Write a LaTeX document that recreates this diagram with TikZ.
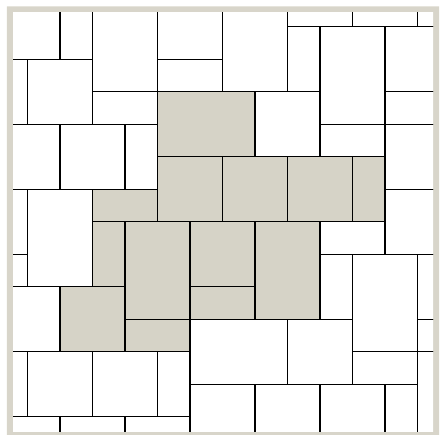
\documentclass[tikz,border=0pt]{standalone}
\usepackage{xcolor}
\usepackage{tikz}
\definecolor{paving}{RGB}{214,211,199}
\definecolor{rim}{RGB}{216,213,202}

\begin{document}
\begin{tikzpicture}[x=0.8125cm, y=-0.8125cm,
    tile/.style={draw=black, line width=0.9pt, fill=white},
    stone/.style={tile, fill=paving}]
    \useasboundingbox (-0.849,-0.822) rectangle (12.72,12.532);
    % frame round the floor
    \fill[rim, even odd rule] (-0.634,-0.622) rectangle (12.66,12.7)
        (-0.449,-0.422) rectangle (12.474,12.44);
    \begin{scope}
      \clip (-0.449,-0.422) rectangle (12.474,12.44);
      % plain tiles: column/row/width/height
      \foreach \c/\r/\w/\h in {-1/-1/2/2, 1/-1/1/2, -1/1/1/2, 0/1/2/2, 2/-1/2/3, 4/-1/2/2,
          4/1/2/1, 6/-1/2/3, 8/-2/2/2, 10/-2/2/2, 12/-2/2/2, 8/0/1/2, 9/0/2/3, 11/0/2/2,
          11/2/2/1, 2/2/2/1, -1/3/2/2, 1/3/2/2, 3/3/1/2, 7/2/2/2, 9/3/2/1, 11/3/2/2,
          11/5/2/2, 9/6/2/1, -1/5/1/2, -1/7/1/1, 0/5/2/3, -1/8/2/2, 9/7/1/2, 10/7/2/3,
          12/7/1/2, 12/9/1/1, 10/10/2/1, 12/10/1/3, 8/9/2/2, 5/9/3/2, 5/11/2/2, 7/11/2/2,
          9/11/2/2, 11/11/1/2, 4/10/1/2, -1/10/1/2, 0/10/2/2, 2/10/2/2, -1/12/2/1,
          1/12/2/1, 3/12/2/1}
        \draw[tile] (\c,\r) rectangle ++(\w,\h);
      % coloured stones
      \foreach \c/\r/\w/\h in {4/2/3/2, 4/4/2/2, 6/4/2/2, 8/4/2/2, 10/4/1/2, 2/5/2/1,
          2/6/1/2, 3/6/2/3, 5/6/2/2, 5/8/2/1, 7/6/2/3, 1/8/2/2, 3/9/2/1}
        \draw[stone] (\c,\r) rectangle ++(\w,\h);
    \end{scope}
\end{tikzpicture}
\end{document}
